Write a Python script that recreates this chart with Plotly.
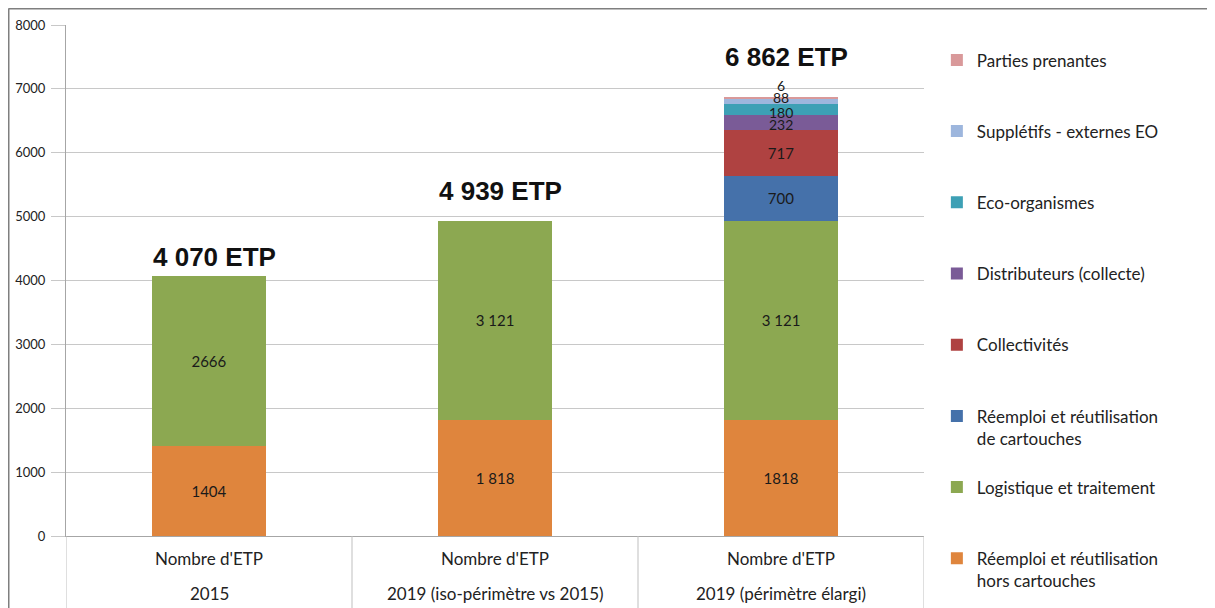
import plotly.graph_objects as go

categories = ["2015", "2019 (iso-périmètre vs 2015)", "2019 (périmètre élargi)"]
measure_label = "Nombre d'ETP"

# series, bottom to top
reemploi_hors = [1404, 1818, 1818]
logistique = [2666, 3121, 3121]
reemploi_cart = [None, None, 700]
collectivites = [None, None, 717]
distributeurs = [None, None, 232]
eco_org = [None, None, 180]
suppletifs = [None, None, 88]
parties = [None, None, 6]

reemploi_hors_txt = ["1404", "1 818", "1818"]
logistique_txt = ["2666", "3 121", "3 121"]

series = [
    ("Réemploi et réutilisation<br>hors cartouches", reemploi_hors, reemploi_hors_txt, "#DF853D"),
    ("Logistique et traitement", logistique, logistique_txt, "#8CA851"),
    ("Réemploi et réutilisation<br>de cartouches", reemploi_cart, None, "#4571AA"),
    ("Collectivités", collectivites, None, "#AF4241"),
    ("Distributeurs (collecte)", distributeurs, None, "#7A5B97"),
    ("Eco-organismes", eco_org, None, "#3DA0B5"),
    ("Supplétifs - externes EO", suppletifs, None, "#9DB6DD"),
    ("Parties prenantes", parties, None, "#D9999A"),
]

# thin segments whose labels are nudged (series index -> pixel shift, + = up)
thin_label_shift = {4: -2, 5: -3, 6: 3}

# pixel gap between each total label's centre and its bar top (as placed in the source)
total_label_gaps = [19, 30, 41]

xpos = list(range(len(categories)))

# figure geometry (page has an 8px body margin)
L, T, PW, PH = 58, 17, 858, 511
W, H = 1215, 608

FONT = "Lato, Carlito, Calibri, sans-serif"
fig = go.Figure()
n = len(series)
base = [0] * len(categories)
for i, (name, vals, txt, col) in enumerate(series):
    if txt is None:
        txt = ["" if v is None else str(v) for v in vals]
    if i in thin_label_shift:
        for j, v in enumerate(vals):
            if v is not None:
                fig.add_annotation(x=xpos[j], y=base[j] + v / 2, xref="x", yref="y",
                                   yanchor="middle", yshift=thin_label_shift[i],
                                   text=str(v), showarrow=False,
                                   font=dict(family=FONT, size=14, color="#1a1a1a"))
        txt = [""] * len(vals)
    label = name if "<br>" in name else name + "<br>\u00a0"
    fig.add_trace(go.Bar(
        x=xpos, y=vals, name=label, marker=dict(color=col, line=dict(width=0)),
        text=txt, textposition="outside" if i == n - 1 else "inside",
        insidetextanchor="middle", textangle=0, constraintext="none",
        textfont=dict(family=FONT, size=14 if i == n - 1 else 15, color="#1a1a1a"),
        cliponaxis=False, width=0.4, legendgroup=str(i), legendrank=n - i,
        hoverinfo="skip",
    ))
    base = [b + (v or 0) for b, v in zip(base, vals)]

totals = base
for xp, t, g in zip(xpos, totals, total_label_gaps):
    fig.add_annotation(x=xp + 0.02, y=t, xref="x", yref="y", yanchor="middle", yshift=g,
                       text=f"<b>{t:,} ETP</b>".replace(",", " "), showarrow=False,
                       font=dict(family="Liberation Sans, Arial", size=26, color="#111"))

for xp, c in zip(xpos, categories):
    fig.add_annotation(x=xp, y=-(593 - 536) / PH, xref="x", yref="paper", yanchor="middle",
                       text=c, showarrow=False,
                       font=dict(family=FONT, size=17, color="#222"))

shapes = []
for xv in [-0.5, 0.5, 1.5, 2.5]:
    shapes.append(dict(type="line", xref="x", yref="paper", x0=xv, x1=xv, y0=0,
                       y1=-(H - T - PH) / PH, line=dict(color="#BFBFBF", width=1)))
# outer frame (top + left)
fx = -(L - 0.5) / PW
fy = 1 + (T - 0.5) / PH
shapes.append(dict(type="line", xref="paper", yref="paper", x0=fx, x1=1.4,
                   y0=fy, y1=fy, line=dict(color="#7F7F7F", width=2)))
shapes.append(dict(type="line", xref="paper", yref="paper", x0=fx, x1=fx,
                   y0=fy, y1=-0.2, line=dict(color="#7F7F7F", width=2)))

fig.update_layout(
    width=W, height=H, barmode="stack",
    margin=dict(l=L, r=W - L - PW, t=T, b=H - T - PH, autoexpand=False),
    plot_bgcolor="white", paper_bgcolor="white",
    font=dict(family=FONT, size=14, color="#222"),
    shapes=shapes,
    legend=dict(x=1.015, y=0.966, xanchor="left", yanchor="top",
                traceorder="grouped", tracegroupgap=24, valign="top", maxheight=600,
                font=dict(family=FONT, size=17, color="#222")),
    xaxis=dict(range=[-0.5, 2.5], tickmode="array", tickvals=xpos, automargin=False,
               ticktext=[measure_label] * len(xpos), ticklabelstandoff=8,
               tickangle=0, showline=True, linecolor="#A6A6A6", ticks="", showgrid=False,
               zeroline=False, tickfont=dict(family=FONT, size=17, color="#222")),
    yaxis=dict(range=[0, 8000], dtick=1000, showgrid=True, gridcolor="#C8C8C8",
               showline=True, linecolor="#A6A6A6", ticks="outside", ticklen=14,
               tickcolor="#C8C8C8", zeroline=False, ticklabelstandoff=3, automargin=False,
               tickfont=dict(family=FONT, size=13, color="#222")),
)

fig.write_html("out.html")
